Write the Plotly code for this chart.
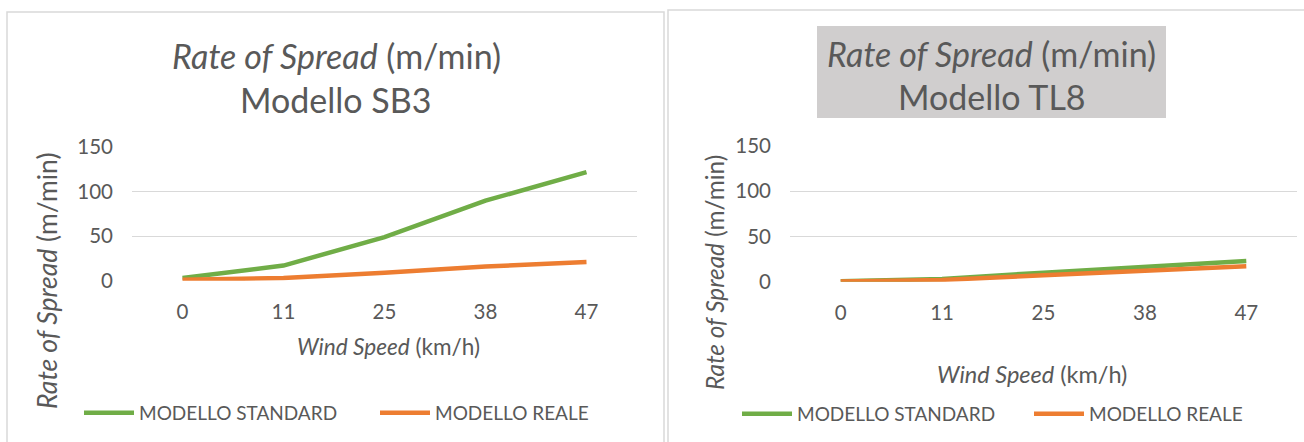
import plotly.graph_objects as go

# Wind speed categories (km/h)
wind_speed = ["0", "11", "25", "38", "47"]

# Rate of spread (m/min), fuel model SB3
sb3_standard = [3, 17, 49, 90, 122]
sb3_reale = [1, 3, 9, 16, 21]

# Rate of spread (m/min), fuel model TL8
tl8_standard = [0.5, 3, 10, 17, 23]
tl8_reale = [0.3, 2, 7, 12, 17]

y_ticks = [0, 50, 100, 150]

W, H = 1304, 442
FONT = "Lato"
TXT = "#595959"
GREEN = "#70ad47"
ORANGE = "#ed7d31"
GRID = "#d9d9d9"


def px(x):
    return x / W


def py(y):
    return 1 - y / H


fig = go.Figure()

panels = [
    dict(xa="x", ya="y", leg="legend", std=sb3_standard, rea=sb3_reale),
    dict(xa="x2", ya="y2", leg="legend2", std=tl8_standard, rea=tl8_reale),
]
for p in panels:
    fig.add_trace(go.Scatter(
        x=wind_speed, y=p["std"], name="MODELLO STANDARD", mode="lines",
        line=dict(color=GREEN, width=4.5), xaxis=p["xa"], yaxis=p["ya"],
        legend=p["leg"], hoverinfo="skip"))
    fig.add_trace(go.Scatter(
        x=wind_speed, y=p["rea"], name="MODELLO REALE", mode="lines",
        line=dict(color=ORANGE, width=4.5), xaxis=p["xa"], yaxis=p["ya"],
        legend=p["leg"], hoverinfo="skip"))

xcommon = dict(type="category", range=[-0.5, 4.5], showgrid=False,
               zeroline=False, showline=False, ticks="",
               tickfont=dict(family=FONT, size=20.5, color=TXT),
               ticklabelstandoff=17, fixedrange=True)
ycommon = dict(range=[0, 150], tickvals=y_ticks, showgrid=True,
               gridcolor=GRID, gridwidth=1.3, zeroline=False,
               showline=False, ticks="",
               tickfont=dict(family=FONT, size=20.5, color=TXT),
               ticklabelstandoff=18, fixedrange=True)

fig.update_layout(
    width=W, height=H,
    margin=dict(l=0, r=0, t=0, b=0, autoexpand=False),
    paper_bgcolor="white", plot_bgcolor="white",
    xaxis=dict(domain=[px(132), px(637)], anchor="y", **xcommon),
    yaxis=dict(domain=[py(280.7), py(147.3)], anchor="x", **ycommon),
    xaxis2=dict(domain=[px(790), px(1297)], anchor="y2", **xcommon),
    yaxis2=dict(domain=[py(281.7), py(146)], anchor="x2", **ycommon),
    legend=dict(orientation="h", x=px(79), xanchor="left",
                y=py(413), yanchor="middle", entrywidth=231, itemwidth=50,
                font=dict(family=FONT, size=19, color=TXT),
                bgcolor="rgba(0,0,0,0)"),
    legend2=dict(orientation="h", x=px(737), xanchor="left",
                 y=py(414), yanchor="middle", entrywidth=227, itemwidth=50,
                 font=dict(family=FONT, size=19, color=TXT),
                 bgcolor="rgba(0,0,0,0)"),
    showlegend=True,
)

# panel frames and the grey title box of the second chart
shapes = [
    dict(type="rect", xref="paper", yref="paper", x0=px(7), x1=px(664),
         y0=py(470), y1=py(12), line=dict(color=GRID, width=1.5),
         fillcolor="rgba(0,0,0,0)", layer="below"),
    dict(type="rect", xref="paper", yref="paper", x0=px(668), x1=px(1320),
         y0=py(470), y1=py(10), line=dict(color=GRID, width=1.5),
         fillcolor="rgba(0,0,0,0)", layer="below"),
    dict(type="rect", xref="paper", yref="paper", x0=px(817), x1=px(1166),
         y0=py(118), y1=py(26), line=dict(width=0),
         fillcolor="#d0cece", layer="below"),
]
fig.update_layout(shapes=shapes)


def note(text, x, y, size, angle=0):
    fig.add_annotation(text=text, x=px(x), y=py(y), xref="paper",
                       yref="paper", showarrow=False, textangle=angle,
                       xanchor="center", yanchor="middle",
                       font=dict(family=FONT, size=size, color=TXT))


# chart titles
note("<i>Rate of Spread</i> (m/min)", 336, 55, 34)
note("Modello SB3", 336, 100, 34)
note("<i>Rate of Spread</i> (m/min)", 991.5, 53, 34)
note("Modello TL8", 991.5, 96, 34)

# axis titles
note("<i>Wind Speed</i> (km/h)", 388, 346, 22.6)
note("<i>Wind Speed</i> (km/h)", 1032, 374, 23.5)
note("<i>Rate of Spread</i> (m/min)", 47, 281, 26.5, angle=-90)
note("<i>Rate of Spread</i> (m/min)", 714, 272, 24.3, angle=-90)

fig.write_html("out.html")
